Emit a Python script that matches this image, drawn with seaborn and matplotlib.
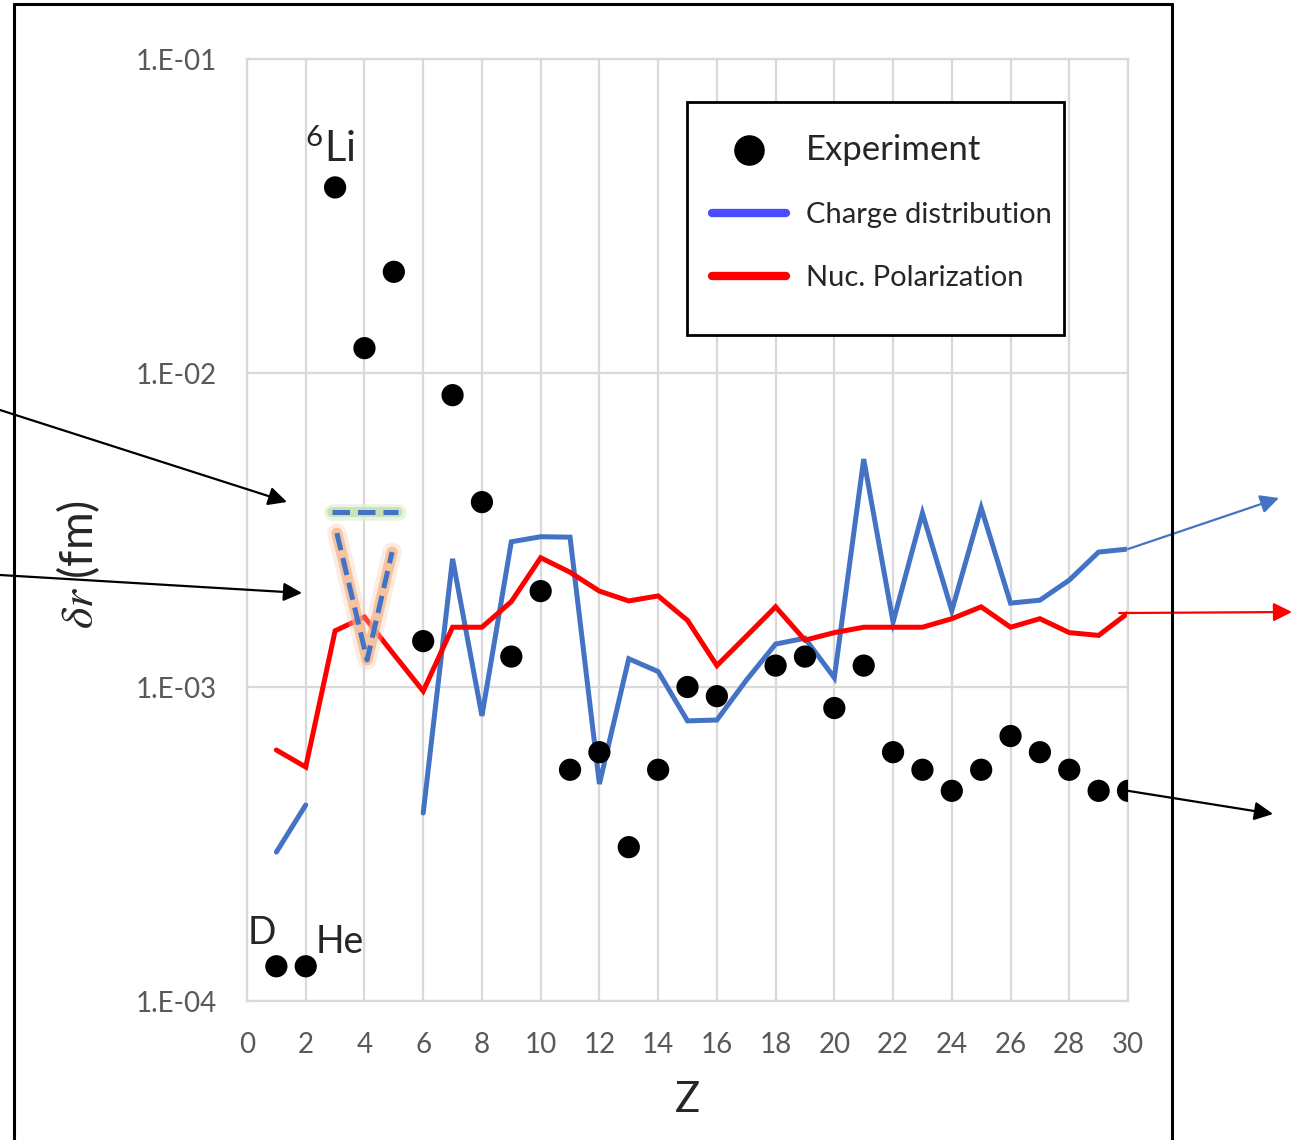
import numpy as np
import pandas as pd
import matplotlib
matplotlib.use("Agg")
import matplotlib.pyplot as plt
import seaborn as sns
from matplotlib.lines import Line2D
from matplotlib.patches import Rectangle
from matplotlib.ticker import FixedLocator, FixedFormatter, NullLocator

# ---------------- data ----------------
z_all = list(range(1, 31))

exp_z = [1, 2, 3, 4, 5, 6, 7, 8, 9, 10, 11, 12, 13, 14, 15, 16,
         18, 19, 20, 21, 22, 23, 24, 25, 26, 27, 28, 29, 30]
exp_val = [1.29e-4, 1.29e-4, 3.9e-2, 1.2e-2, 2.1e-2, 1.40e-3, 8.5e-3, 3.88e-3,
           1.25e-3, 2.02e-3, 5.45e-4, 6.2e-4, 3.09e-4, 5.45e-4, 1.0e-3, 9.35e-4,
           1.17e-3, 1.25e-3, 8.57e-4, 1.17e-3, 6.2e-4, 5.45e-4, 4.67e-4,
           5.45e-4, 6.98e-4, 6.2e-4, 5.45e-4, 4.67e-4, 4.67e-4]

pol_val = [6.3e-4, 5.56e-4, 1.51e-3, 1.67e-3, 1.27e-3, 9.7e-4, 1.55e-3, 1.55e-3,
           1.87e-3, 2.58e-3, 2.32e-3, 2.02e-3, 1.88e-3, 1.95e-3, 1.63e-3, 1.17e-3,
           1.45e-3, 1.80e-3, 1.41e-3, 1.49e-3, 1.55e-3, 1.55e-3, 1.55e-3, 1.65e-3,
           1.80e-3, 1.55e-3, 1.65e-3, 1.49e-3, 1.46e-3, 1.72e-3]

chg_z_a = [1, 2]
chg_val_a = [2.98e-4, 4.21e-4]
chg_z_b = list(range(6, 31))
chg_val_b = [3.97e-4, 2.56e-3, 8.09e-4, 2.90e-3, 3.01e-3, 3.0e-3, 4.91e-4, 1.23e-3,
             1.12e-3, 7.8e-4, 7.85e-4, 1.05e-3, 1.37e-3, 1.43e-3, 1.07e-3, 5.32e-3,
             1.61e-3, 3.58e-3, 1.75e-3, 3.72e-3, 1.85e-3, 1.89e-3, 2.19e-3, 2.69e-3,
             2.75e-3]

# dashed estimates for Li / Be / B region
v_z = [3.06, 4.09, 4.94]
v_val = [3.09e-3, 1.22e-3, 2.69e-3]
h_z = [2.9, 5.13]
h_val = [3.61e-3, 3.61e-3]

x_ticks = list(range(0, 31, 2))
y_ticks = [1e-4, 1e-3, 1e-2, 1e-1]
y_tick_labels = ["1.E-04", "1.E-03", "1.E-02", "1.E-01"]

labels_legend = ["Experiment", "Charge distribution", "Nuc. Polarization"]

# ---------------- style ----------------
sns.set_style("white")
plt.rcParams["font.family"] = ["Lato", "DejaVu Sans"]
plt.rcParams["mathtext.fontset"] = "custom"
plt.rcParams["mathtext.rm"] = "Lato"
plt.rcParams["mathtext.it"] = "STIXGeneral:italic"
plt.rcParams["mathtext.bf"] = "Lato:bold"

W, H = 1293, 1140
fig = plt.figure(figsize=(W / 100, H / 100), dpi=100)
ax = fig.add_axes([247 / W, 139 / H, 881 / W, 942 / H])

BLUE = "#4472C4"
RED = "#FF0000"
GRID = "#D9D9D9"

ax.set_yscale("log")

# charge distribution (two segments)
chg_df = pd.DataFrame({
    "Z": chg_z_a + chg_z_b,
    "val": chg_val_a + chg_val_b,
    "seg": ["a"] * len(chg_z_a) + ["b"] * len(chg_z_b),
})
sns.lineplot(data=chg_df, x="Z", y="val", units="seg", estimator=None,
             color=BLUE, linewidth=3.6, ax=ax, legend=False,
             solid_joinstyle="miter")

# polarization
pol_df = pd.DataFrame({"Z": z_all, "val": pol_val})
sns.lineplot(data=pol_df, x="Z", y="val", estimator=None, color=RED,
             linewidth=3.6, ax=ax, legend=False, solid_joinstyle="miter")

# glows + dashed estimates
ax.plot(v_z, v_val, color="#F8CBAD", lw=14, alpha=0.35, solid_capstyle="round",
        solid_joinstyle="round")
ax.plot(v_z, v_val, color="#F4B183", lw=8, alpha=0.7, solid_capstyle="round",
        solid_joinstyle="round")
ax.plot(v_z, v_val, color=BLUE, lw=3.6, dashes=(3.5, 1.6))
ax.plot(h_z, h_val, color="#E2F0D9", lw=12, alpha=0.7, solid_capstyle="round")
ax.plot(h_z, h_val, color="#C5E0B4", lw=7, alpha=0.9, solid_capstyle="round")
ax.plot(h_z, h_val, color=BLUE, lw=3.6, dashes=(3.5, 1.6))

# experiment
exp_df = pd.DataFrame({"Z": exp_z, "val": exp_val})
sns.scatterplot(data=exp_df, x="Z", y="val", color="black", s=256,
                edgecolor="none", ax=ax, zorder=5, legend=False)

# axes
ax.set_xlim(0, 30)
ax.set_ylim(1e-4, 1e-1)
ax.xaxis.set_major_locator(FixedLocator(x_ticks))
ax.yaxis.set_major_locator(FixedLocator(y_ticks))
ax.yaxis.set_major_formatter(FixedFormatter(y_tick_labels))
ax.yaxis.set_minor_locator(NullLocator())
ax.grid(True, which="major", color=GRID, lw=1.6)
for s in ax.spines.values():
    s.set_color(GRID)
    s.set_linewidth(1.6)
ax.tick_params(axis="both", length=0, labelsize=20, labelcolor="#595959")
ax.tick_params(axis="x", pad=22)
ax.tick_params(axis="y", pad=22)
ax.set_xlabel("Z", fontsize=30, labelpad=17)
ax.set_ylabel(r"$\delta r$ (fm)", fontsize=33)
ax.yaxis.set_label_coords(-0.165, 0.463)

# nucleus labels
ax.text(2.83, 5.2e-2, r"$^{6}$Li", fontsize=30, ha="center", va="center")
ax.text(0.5, 1.65e-4, "D", fontsize=27, ha="center", va="center")
ax.text(3.15, 1.54e-4, "He", fontsize=27, ha="center", va="center")

# legend box + content
ax.add_patch(Rectangle((687 / W, 1 - 335 / H), (1064 - 687) / W, (335 - 102) / H,
                       transform=fig.transFigure, facecolor="white",
                       edgecolor="black", lw=2, zorder=7, clip_on=False))
handles = [
    Line2D([], [], marker="o", color="black", linestyle="none", markersize=21),
    Line2D([], [], color="#4B4BFF", lw=6),
    Line2D([], [], color=RED, lw=6),
]
leg = ax.legend(handles, labels_legend, loc="upper left",
                bbox_to_anchor=(712 / W, 1 - 134 / H), bbox_transform=fig.transFigure,
                borderaxespad=0, frameon=False, prop={"size": 21},
                handlelength=2.55, handletextpad=0.68, borderpad=0,
                labelspacing=1.25)
leg.get_texts()[0].set_fontsize(25)
leg.set_zorder(8)


# arrows
def arrow(start, start_coords, end_px, color):
    ax.annotate("", xy=(end_px[0], H - end_px[1]), xycoords="figure pixels",
                xytext=start, textcoords=start_coords,
                arrowprops=dict(arrowstyle="-|>", color=color, lw=1.6,
                                mutation_scale=28, shrinkA=0, shrinkB=0),
                annotation_clip=False)


arrow((0, H - 410), "figure pixels", (287, 502), "black")
arrow((0, H - 575), "figure pixels", (302, 593), "black")
arrow((30, chg_val_b[-1]), "data", (1279, 498), BLUE)
arrow((29.7, pol_val[-1]), "data", (1292, 612), RED)
arrow((30, exp_val[-1]), "data", (1273, 814), "black")

# outer frame
fr = dict(transform=fig.transFigure, color="black", lw=2.2)
fig.add_artist(Line2D([14 / W, 14 / W], [0, 1 - 4 / H], **fr))
fig.add_artist(Line2D([14 / W, 1172 / W], [1 - 4 / H, 1 - 4 / H], **fr))
fig.add_artist(Line2D([1172 / W, 1172 / W], [0, 1 - 4 / H], **fr))

fig.savefig("out.png", dpi=100)
